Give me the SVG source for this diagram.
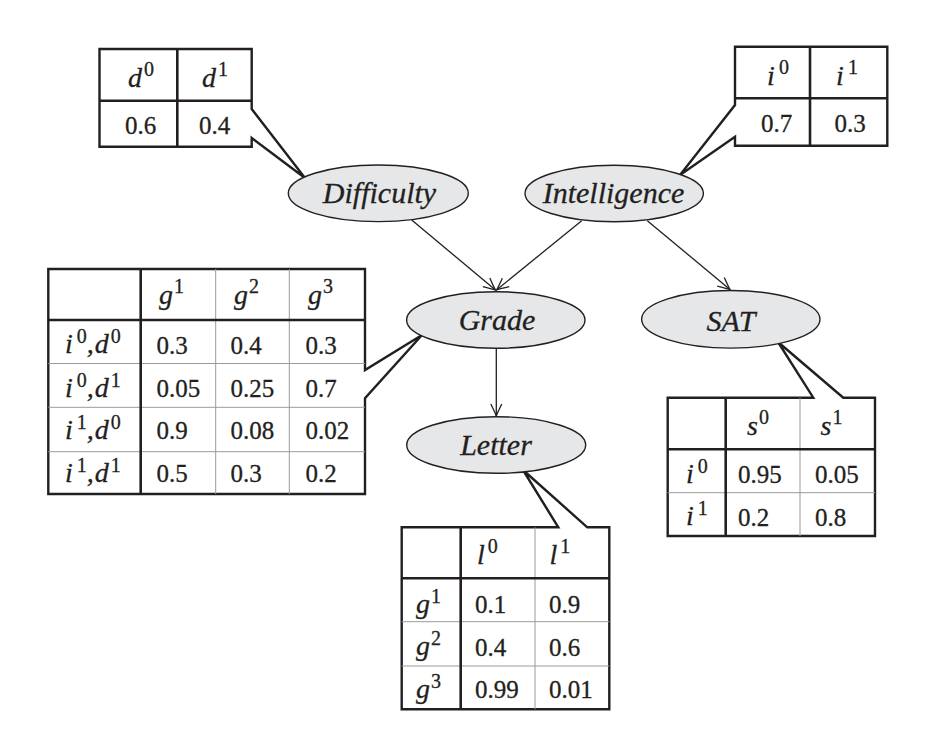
<svg xmlns="http://www.w3.org/2000/svg" width="936" height="756" viewBox="0 0 936 756">
<defs>
<style>
.node ellipse{fill:#e6e7e8;stroke:#231f20;stroke-width:1.4}
.lbl{font-family:"Liberation Serif","Times New Roman",serif;font-style:italic;font-size:30px;fill:#231f20;stroke:#231f20;stroke-width:0.3;text-anchor:middle}
.frame{fill:#fff;stroke:#231f20;stroke-width:2.4;stroke-linejoin:miter}
.thick{stroke:#231f20;stroke-width:2.6;fill:none}
.thin{stroke:#9a9a9a;stroke-width:1;fill:none}
.num{font-family:"Liberation Serif","Times New Roman",serif;font-size:25px;fill:#231f20;stroke:#231f20;stroke-width:0.3}
.c{text-anchor:middle}
.v{font-family:"Liberation Serif","Times New Roman",serif;font-style:italic;font-size:28px;fill:#231f20;stroke:#231f20;stroke-width:0.3}
.s{font-style:normal;font-size:20px}
.conn line{stroke:#231f20;stroke-width:1.3;marker-end:url(#arr)}
</style>
<marker id="arr" markerUnits="userSpaceOnUse" markerWidth="16" markerHeight="16" viewBox="-13 -8 16 16" refX="0" refY="0" orient="auto">
<path d="M-12,-5.5 Q-4,-1.5 0,0 Q-4,1.5 -12,5.5" fill="none" stroke="#231f20" stroke-width="1.3"/>
</marker>
</defs>
<rect width="936" height="756" fill="#fff"/>

<g id="cpd-difficulty">
<path class="frame" d="M99.5,49 H251.7 V109 L305,178 L251.7,138 V146.7 H99.5 Z"/>
<line class="thick" x1="99.5" y1="100.7" x2="251.7" y2="100.7"/>
<line class="thick" x1="177.3" y1="49" x2="177.3" y2="146.7"/>
<text class="v c" x="141" y="86.5">d<tspan class="s" dx="2" dy="-11">0</tspan></text>
<text class="v c" x="215" y="86.5">d<tspan class="s" dx="2" dy="-11">1</tspan></text>
<text class="num c" x="140.5" y="133.5">0.6</text>
<text class="num c" x="214.5" y="133.5">0.4</text>
</g>

<g id="cpd-intelligence">
<path class="frame" d="M735,46.7 H887.3 V145.7 H735 V136.7 L680,175 L735,105 Z"/>
<line class="thick" x1="735" y1="98.3" x2="887.3" y2="98.3"/>
<line class="thick" x1="810" y1="46.7" x2="810" y2="145.7"/>
<text class="v c" x="778" y="85">i<tspan class="s" dx="4" dy="-11">0</tspan></text>
<text class="v c" x="847" y="85">i<tspan class="s" dx="4" dy="-11">1</tspan></text>
<text class="num c" x="776.5" y="132">0.7</text>
<text class="num c" x="850" y="132">0.3</text>
</g>

<g id="cpd-grade">
<path class="frame" d="M48.3,269 H365 V370 L422,335 L365,398.3 V494 H48.3 Z"/>
<line class="thin" x1="215.7" y1="269" x2="215.7" y2="494"/>
<line class="thin" x1="289.3" y1="269" x2="289.3" y2="494"/>
<line class="thin" x1="48.3" y1="363.5" x2="365" y2="363.5"/>
<line class="thin" x1="48.3" y1="407.3" x2="365" y2="407.3"/>
<line class="thin" x1="48.3" y1="451.7" x2="365" y2="451.7"/>
<line class="thick" x1="48.3" y1="320" x2="365" y2="320"/>
<line class="thick" x1="140.7" y1="269" x2="140.7" y2="494"/>
<text class="v" x="159" y="304">g<tspan class="s" dx="1" dy="-11">1</tspan></text>
<text class="v" x="234" y="304">g<tspan class="s" dx="1" dy="-11">2</tspan></text>
<text class="v" x="308" y="304">g<tspan class="s" dx="1" dy="-11">3</tspan></text>
<text class="v" x="65" y="353">i<tspan class="s" dx="4" dy="-10">0</tspan><tspan dy="10">,</tspan><tspan dx="1">d</tspan><tspan class="s" dx="2" dy="-10">0</tspan></text>
<text class="v" x="65" y="396.5">i<tspan class="s" dx="4" dy="-10">0</tspan><tspan dy="10">,</tspan><tspan dx="1">d</tspan><tspan class="s" dx="2" dy="-10">1</tspan></text>
<text class="v" x="65" y="438.5">i<tspan class="s" dx="4" dy="-10">1</tspan><tspan dy="10">,</tspan><tspan dx="1">d</tspan><tspan class="s" dx="2" dy="-10">0</tspan></text>
<text class="v" x="65" y="481.5">i<tspan class="s" dx="4" dy="-10">1</tspan><tspan dy="10">,</tspan><tspan dx="1">d</tspan><tspan class="s" dx="2" dy="-10">1</tspan></text>
<text class="num" x="156.5" y="353.5">0.3</text>
<text class="num" x="230.5" y="353.5">0.4</text>
<text class="num" x="305.5" y="353.5">0.3</text>
<text class="num" x="156.5" y="397">0.05</text>
<text class="num" x="230.5" y="397">0.25</text>
<text class="num" x="305.5" y="397">0.7</text>
<text class="num" x="156.5" y="439">0.9</text>
<text class="num" x="230.5" y="439">0.08</text>
<text class="num" x="305.5" y="439">0.02</text>
<text class="num" x="156.5" y="482">0.5</text>
<text class="num" x="230.5" y="482">0.3</text>
<text class="num" x="305.5" y="482">0.2</text>
</g>

<g id="cpd-sat">
<path class="frame" d="M667.7,397.7 H813.3 L778,342 L843.3,397.7 H875 V536 H667.7 Z"/>
<line class="thin" x1="800" y1="397.7" x2="800" y2="536"/>
<line class="thin" x1="667.7" y1="492.7" x2="875" y2="492.7"/>
<line class="thick" x1="667.7" y1="449.3" x2="875" y2="449.3"/>
<line class="thick" x1="725.7" y1="397.7" x2="725.7" y2="536"/>
<text class="v" x="747" y="435">s<tspan class="s" dx="1" dy="-11">0</tspan></text>
<text class="v" x="820.5" y="435">s<tspan class="s" dx="1" dy="-11">1</tspan></text>
<text class="v" x="686" y="482.5">i<tspan class="s" dx="4" dy="-10">0</tspan></text>
<text class="v" x="686" y="525">i<tspan class="s" dx="4" dy="-10">1</tspan></text>
<text class="num" x="738" y="483">0.95</text>
<text class="num" x="815" y="483">0.05</text>
<text class="num" x="738" y="525.5">0.2</text>
<text class="num" x="815" y="525.5">0.8</text>
</g>

<g id="cpd-letter">
<path class="frame" d="M401.7,527.3 H558.3 L523,470 L587.3,527.3 H609.3 V709.3 H401.7 Z"/>
<line class="thin" x1="535" y1="527.3" x2="535" y2="709.3"/>
<line class="thin" x1="401.7" y1="621.7" x2="609.3" y2="621.7"/>
<line class="thin" x1="401.7" y1="666" x2="609.3" y2="666"/>
<line class="thick" x1="401.7" y1="578.3" x2="609.3" y2="578.3"/>
<line class="thick" x1="460.7" y1="527.3" x2="460.7" y2="709.3"/>
<text class="v" x="477" y="563.5">l<tspan class="s" dx="3" dy="-11">0</tspan></text>
<text class="v" x="549.5" y="563.5">l<tspan class="s" dx="3" dy="-11">1</tspan></text>
<text class="v" x="416" y="612.5">g<tspan class="s" dx="1" dy="-10">1</tspan></text>
<text class="v" x="416" y="655">g<tspan class="s" dx="1" dy="-10">2</tspan></text>
<text class="v" x="416" y="697.5">g<tspan class="s" dx="1" dy="-10">3</tspan></text>
<text class="num" x="475" y="613">0.1</text>
<text class="num" x="549" y="613">0.9</text>
<text class="num" x="475" y="655.5">0.4</text>
<text class="num" x="549" y="655.5">0.6</text>
<text class="num" x="475" y="698">0.99</text>
<text class="num" x="549" y="698">0.01</text>
</g>

<g id="connectors" class="conn">
<line x1="411.7" y1="220" x2="495.5" y2="290"/>
<line x1="581.7" y1="220.7" x2="496.5" y2="290"/>
<line x1="647.3" y1="220.7" x2="730" y2="289.5"/>
<line x1="496.3" y1="348.3" x2="496.3" y2="416"/>
</g>

<g id="node-difficulty" class="node">
<ellipse cx="378.3" cy="193.3" rx="90" ry="28.3"/>
<text class="lbl" x="379.5" y="203.3">Difficulty</text>
</g>
<g id="node-intelligence" class="node">
<ellipse cx="614.2" cy="193.5" rx="89.2" ry="28.3"/>
<text class="lbl" x="613.5" y="203.3">Intelligence</text>
</g>
<g id="node-grade" class="node">
<ellipse cx="495.8" cy="320" rx="89.2" ry="28.3"/>
<text class="lbl" x="497" y="330">Grade</text>
</g>
<g id="node-sat" class="node">
<ellipse cx="730.8" cy="319.3" rx="89.2" ry="28.8"/>
<text class="lbl" x="731" y="330.5">SAT</text>
</g>
<g id="node-letter" class="node">
<ellipse cx="496.2" cy="445" rx="89.5" ry="28.3"/>
<text class="lbl" x="496" y="455">Letter</text>
</g>
</svg>
